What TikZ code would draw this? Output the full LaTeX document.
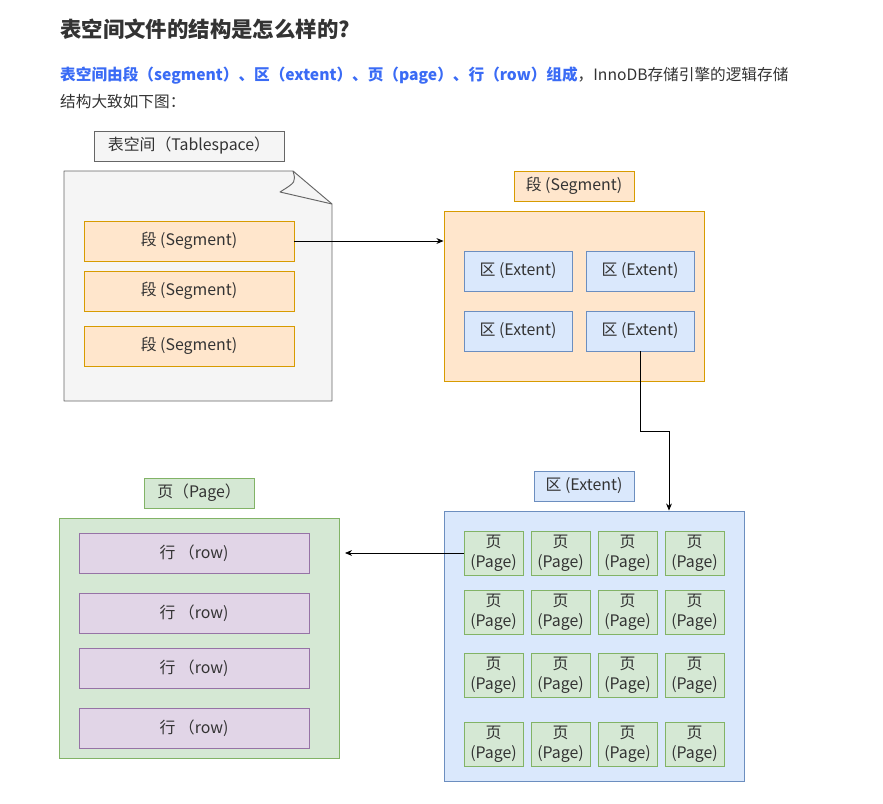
\documentclass[tikz,border=0pt]{standalone}
\usepackage{fontspec}
\setmainfont{Noto Sans CJK SC}
\usetikzlibrary{arrows.meta}
\definecolor{txt}{HTML}{333333}
\definecolor{headblue}{HTML}{3A6BF5}
\definecolor{docfill}{HTML}{F5F5F5}
\definecolor{docline}{HTML}{666666}
\definecolor{segfill}{HTML}{FFE6CC}
\definecolor{segline}{HTML}{D79B00}
\definecolor{extfill}{HTML}{DAE8FC}
\definecolor{extline}{HTML}{6C8EBF}
\definecolor{pagefill}{HTML}{D5E8D4}
\definecolor{pageline}{HTML}{82B366}
\definecolor{rowfill}{HTML}{E1D5E7}
\definecolor{rowline}{HTML}{9673A6}
\tikzset{
  wh/.style 2 args={minimum width=#1*0.85pt, minimum height=#2*0.85pt},
  base/.style={draw, line width=0.8pt, inner sep=0pt, text=txt, align=center,
    font=\fontsize{13.5}{16}\selectfont},
  docbox/.style={base, fill=docfill, draw=docline},
  segbox/.style={base, fill=segfill, draw=segline},
  extbox/.style={base, fill=extfill, draw=extline},
  pagebox/.style={base, fill=pagefill, draw=pageline, font=\fontsize{13.5}{17}\selectfont},
  rowbox/.style={base, fill=rowfill, draw=rowline},
  arr/.style={-{Stealth[length=6pt,width=5pt]}, line width=0.7pt, black},
}
\begin{document}
\begin{tikzpicture}[x=0.85pt, y=-0.85pt]
\useasboundingbox (0,0) rectangle (883,804);

% heading and intro text
\node[anchor=base west, inner sep=0pt, text=txt, font=\fontsize{18.2}{21}\selectfont\bfseries] (title) at (60,38)
  {表空间文件的结构是怎么样的?};
\node[anchor=base west, inner sep=0pt, font=\fontsize{13.3}{16}\selectfont] (intro1) at (60,81)
  {\textcolor{headblue}{\bfseries 表空间由段（segment）、区（extent）、页（page）、行（row）组成}\textcolor{txt}{，InnoDB存储引擎的逻辑存储}};
\node[anchor=base west, inner sep=0pt, text=txt, font=\fontsize{13.3}{16}\selectfont] (intro2) at (60,108)
  {结构大致如下图：};

% tablespace: document sheet with folded corner
\node[docbox, wh={190}{30}] (tslabel) at (189,146) {表空间（Tablespace）};
\coordinate (d1) at (64,171);
\coordinate (d2) at (293,171);
\coordinate (d3) at (332,204);
\coordinate (d4) at (332,401);
\coordinate (d5) at (64,401);
\filldraw[fill=docfill, draw=docline, line width=0.8pt, line join=round]
  (d1) -- (d2) -- (d3) -- (d4) -- (d5) -- cycle;
\draw[docline, line width=0.8pt, line join=round]
  (d2) .. controls (296,182) .. (280,192) -- (d3);
\node[segbox, wh={210}{40}] (s1) at (189,241) {段 (Segment)};
\node[segbox, wh={210}{40}] (s2) at (189,291) {段 (Segment)};
\node[segbox, wh={210}{40}] (s3) at (189,346) {段 (Segment)};

% segment
\node[segbox, wh={120}{30}] (seglabel) at (574,186) {段 (Segment)};
\node[segbox, wh={260}{170}] (seg) at (574,296) {};
\node[extbox, wh={108}{40}] (e1) at (518,271) {区 (Extent)};
\node[extbox, wh={108}{40}] (e2) at (640,271) {区 (Extent)};
\node[extbox, wh={108}{40}] (e3) at (518,331) {区 (Extent)};
\node[extbox, wh={108}{40}] (e4) at (640,331) {区 (Extent)};

% extent
\node[extbox, wh={100}{30}] (extlabel) at (584,486) {区 (Extent)};
\node[extbox, wh={300}{270}] (ext) at (594,646) {};
\foreach \r/\y in {1/553, 2/612, 3/675.5, 4/744}{
  \foreach \c/\x in {1/493.5, 2/560.5, 3/627.5, 4/694.5}{
    \node[pagebox, wh={59}{44}] (p\r\c) at (\x,\y) {页\\(Page)};
  }
}

% page
\node[pagebox, wh={110}{30}] (pagelabel) at (199,493) {页（Page）};
\node[pagebox, wh={280}{240}] (page) at (199,638) {};
\node[rowbox, wh={230}{40}] (r1) at (194,553) {行 （row)};
\node[rowbox, wh={230}{40}] (r2) at (194,613) {行 （row)};
\node[rowbox, wh={230}{40}] (r3) at (194,668) {行 （row)};
\node[rowbox, wh={230}{40}] (r4) at (194,728) {行 （row)};

% connectors
\draw[arr] (s1.east) -- (s1.east -| seg.west);
\coordinate (bend) at (669,431);
\draw[arr] (e4.south) |- (bend) -- (bend |- ext.north);
\coordinate (pagein) at (345,553);
\draw[arr] (p11.west) -- (pagein);
\end{tikzpicture}
\end{document}
